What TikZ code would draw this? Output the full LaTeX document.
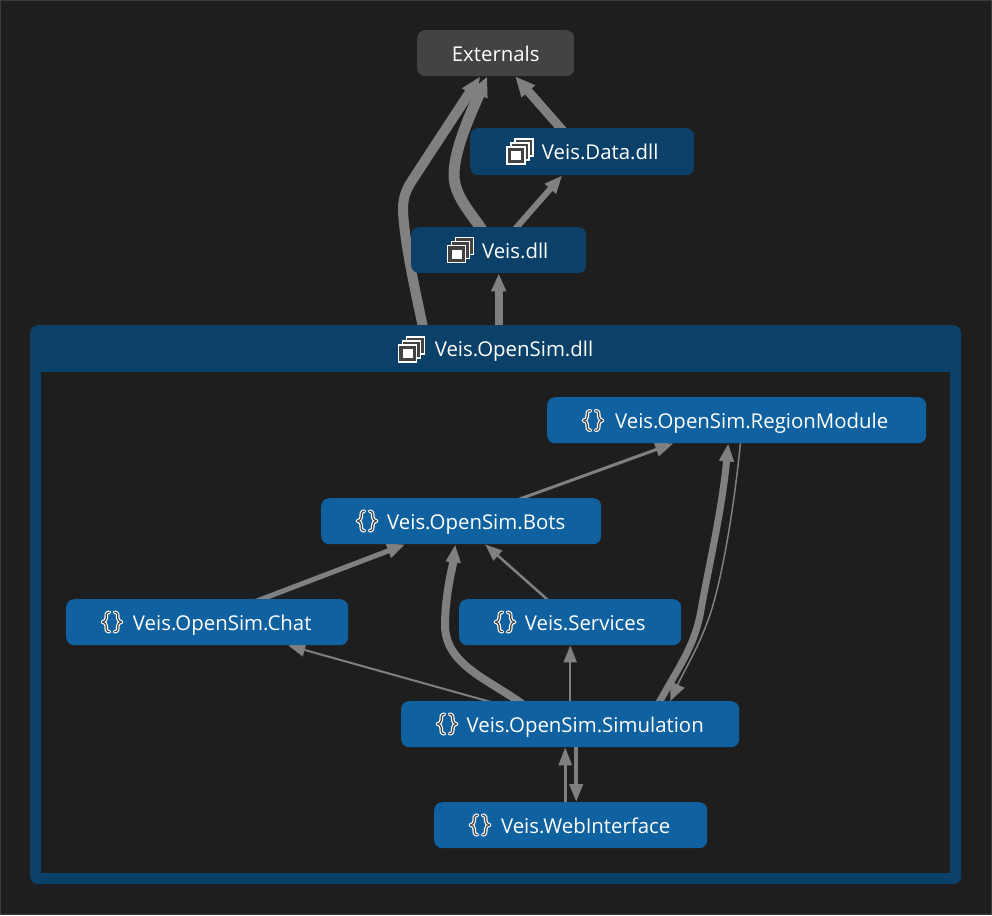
\documentclass[tikz,border=0pt]{standalone}
\usepackage{fontspec}
\setmainfont{Open Sans}
\usetikzlibrary{arrows.meta,calc}
\pgfdeclarelayer{back}
\pgfdeclarelayer{grpl}
\pgfdeclarelayer{edges}
\pgfsetlayers{back,grpl,edges,main}
\definecolor{bgc}{HTML}{1E1E1E}
\definecolor{edgeframe}{HTML}{3C3C3C}
\definecolor{extc}{HTML}{434343}
\definecolor{asmc}{HTML}{0B4168}
\definecolor{nsc}{HTML}{0F619F}
\definecolor{linkc}{HTML}{808080}
\tikzset{
  x=1pt,y=-1pt,
  box/.style={rounded corners=8pt,inner sep=0pt,text=white,text height=16pt,text depth=0pt,font=\fontsize{20.4}{22}\selectfont,anchor=north west},
  extbox/.style={box,fill=extc},
  asmbox/.style={box,fill=asmc},
  nsbox/.style={box,fill=nsc},
  link/.style={draw=linkc,line width=#1,line join=round},
  head/.style 2 args={-{Triangle[length=#1,width=#2]}},
  asmicon/.pic={
    \foreach \d in {8,4}{
      \draw[white,line width=1.4pt,fill=extc] (-13+\d,-4-\d) rectangle (5+\d,13-\d);
    }
    \draw[white,line width=1.4pt,fill=extc] (-13,-4) rectangle (5,13);
    \fill[white] (-9,0) rectangle (1,9);
  },
  nsicon/.pic={
    \foreach \w/\c in {3.6pt/white,1.2pt/extc}{
      \draw[\c,line width=\w,line cap=round,line join=round]
        (-2.5,-9.8) .. controls (-6.5,-9.8) and (-5.8,-6) .. (-5.8,-4) .. controls (-5.8,-2) and (-7,-0.5) .. (-9.5,0)
        .. controls (-7,0.5) and (-5.8,2) .. (-5.8,4) .. controls (-5.8,6) and (-6.5,9.8) .. (-2.5,9.8);
      \draw[\c,line width=\w,line cap=round,line join=round]
        (2.5,-9.8) .. controls (6.5,-9.8) and (5.8,-6) .. (5.8,-4) .. controls (5.8,-2) and (7,-0.5) .. (9.5,0)
        .. controls (7,0.5) and (5.8,2) .. (5.8,4) .. controls (5.8,6) and (6.5,9.8) .. (2.5,9.8);
    }
  }
}
\begin{document}
\begin{tikzpicture}
\begin{pgfonlayer}{back}
\useasboundingbox (0,0) rectangle (992,915);
\fill[bgc] (0,0) rectangle (992,915);
\draw[edgeframe,line width=1pt] (0.5,0.5) rectangle (991.5,914.5);
\end{pgfonlayer}

% group container
\begin{pgfonlayer}{grpl}
\node[asmbox,minimum width=931pt,minimum height=559pt] (grp) at (30,325) {};
\fill[bgc] (41,372) rectangle (950,873);
\end{pgfonlayer}
\node[text=white,text height=16pt,text depth=0pt,inner sep=0pt,font=\fontsize{20.4}{22}\selectfont,anchor=center] (grpt) at (514,348.5) {Veis.OpenSim.dll};

% nodes
\node[extbox,minimum width=157pt,minimum height=46pt] (ext) at (417,30) {Externals};
\node[asmbox,minimum width=224pt,minimum height=47pt] (data) at (470,128) {\hspace*{36pt}Veis.Data.dll};
\node[asmbox,minimum width=175pt,minimum height=46pt] (dll) at (411,227) {\hspace*{33pt}Veis.dll};
\node[nsbox,minimum width=379pt,minimum height=46pt] (region) at (547,397) {\hspace*{30pt}Veis.OpenSim.RegionModule};
\node[nsbox,minimum width=280pt,minimum height=46pt] (bots) at (321,498) {\hspace*{30pt}Veis.OpenSim.Bots};
\node[nsbox,minimum width=282pt,minimum height=46pt] (chat) at (66,599) {\hspace*{30pt}Veis.OpenSim.Chat};
\node[nsbox,minimum width=222pt,minimum height=46pt] (serv) at (459,599) {\hspace*{30pt}Veis.Services};
\node[nsbox,minimum width=338pt,minimum height=46pt] (sim) at (401,701) {\hspace*{30pt}Veis.OpenSim.Simulation};
\node[nsbox,minimum width=273pt,minimum height=46pt] (web) at (434,802) {\hspace*{30pt}Veis.WebInterface};

% icons
\pic at (520,151) {asmicon};
\pic at (460.5,249.5) {asmicon};
\pic at (411.5,349) {asmicon};
\pic at (593,420.5) {nsicon};
\pic at (367,521) {nsicon};
\pic at (112,622) {nsicon};
\pic at (505,622) {nsicon};
\pic at (447,724) {nsicon};
\pic at (480,825) {nsicon};

% connectors out of the group run below it
\begin{pgfonlayer}{back}
\draw[link=10pt,head={20pt}{16pt}] ([xshift=-72.5pt,yshift=-3pt]grp.north) .. controls (415,290) and (404,240) .. (403,210)
  .. controls (403,195) and (407,188) .. (415,176) -- ([xshift=-15.5pt]ext.south);
\draw[link=8pt,head={18pt}{14pt}] ([yshift=-3pt]grp.north -| dll.north) -- (dll.south);
\end{pgfonlayer}

\begin{pgfonlayer}{edges}
\draw[link=11pt,head={20pt}{17pt}] ([xshift=-16.5pt,yshift=-3pt]dll.north) .. controls (470,212) and (454,195) .. (454,175)
  .. controls (454,150) and (470,115) .. ([xshift=-8.5pt]ext.south);
\draw[link=9pt,head={20pt}{17pt}] ([xshift=-19pt,yshift=-3pt]data.north) -- ([xshift=19.5pt]ext.south);
\draw[link=6pt,head={18pt}{14pt}] ([xshift=15.5pt,yshift=-3pt]dll.north) -- ([xshift=-20pt]data.south);
\draw[link=3pt,head={18pt}{14pt}] ([xshift=53pt,yshift=-3pt]bots.north) -- ([xshift=-63.5pt]region.south);
\draw[link=7pt,head={18pt}{14pt}] ([xshift=88pt,yshift=-3pt]sim.north) .. controls (680,665) and (695,645) .. (701,610)
  .. controls (708,570) and (722,510) .. ([xshift=-8.5pt]region.south);
\draw[link=1.5pt,head={18pt}{15pt}] ([xshift=4pt,yshift=3pt]region.south) .. controls (735,500) and (722,585) .. (707,623)
  .. controls (697,650) and (682,675) .. ([xshift=100pt]sim.north);
\draw[link=5pt,head={18pt}{14pt}] ([xshift=47pt,yshift=-3pt]chat.north) -- ([xshift=-56pt]bots.south);
\draw[link=8pt,head={18pt}{14pt}] ([xshift=-48pt,yshift=-3pt]sim.north) .. controls (490,680) and (445,665) .. (445,625)
  .. controls (445,595) and (453,565) .. ([xshift=-6pt]bots.south);
\draw[link=2.5pt,head={17pt}{13pt}] ([xshift=-20pt,yshift=-3pt]serv.north) -- ([xshift=24pt]bots.south);
\draw[link=2pt,head={17pt}{13pt}] ([xshift=-72pt,yshift=-3pt]sim.north) -- ([xshift=81pt]chat.south);
\draw[link=2pt,head={17pt}{13pt}] (sim.north) -- (serv.south);
\draw[link=3pt,head={18pt}{13pt}] ([xshift=-5.5pt]web.north) -- ([xshift=-5pt]sim.south);
\draw[link=4pt,head={18pt}{13pt}] ([xshift=6pt]sim.south) -- ([xshift=5.5pt]web.north);
\end{pgfonlayer}
\end{tikzpicture}
\end{document}
